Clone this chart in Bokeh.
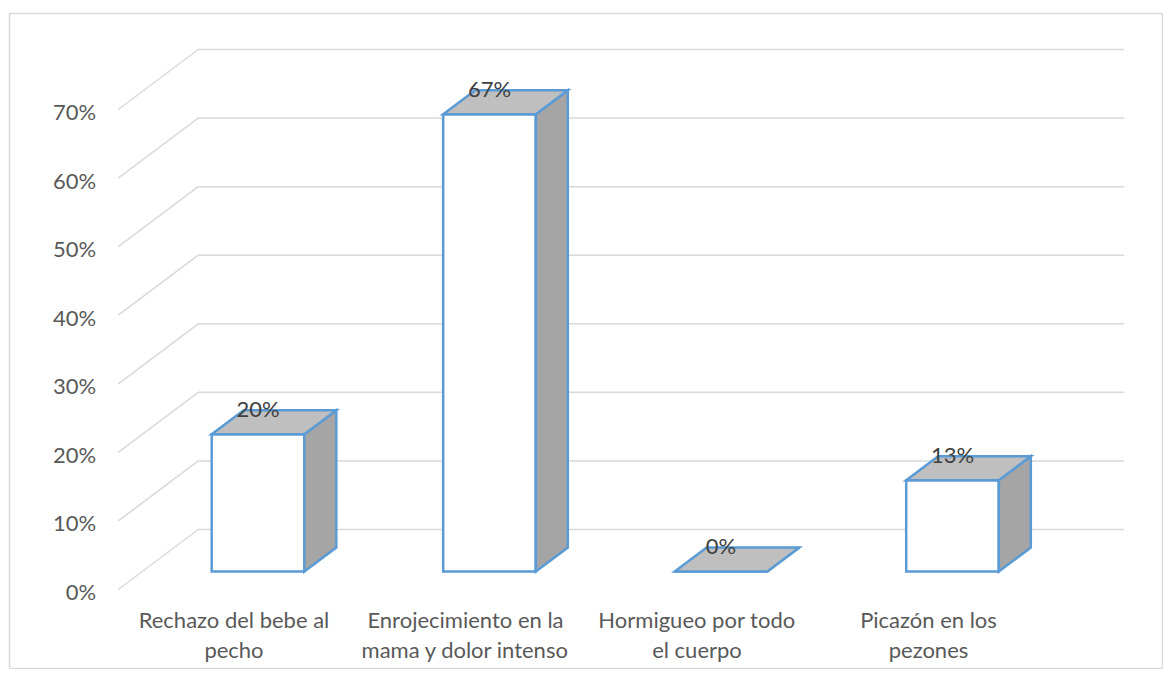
from bokeh.plotting import figure
from bokeh.models import Range1d, ColumnDataSource
from bokeh.core.properties import value
from bokeh.embed import file_html
from bokeh.resources import INLINE

# ---------------- data ----------------
categories = ["Rechazo del bebe al\npecho",
              "Enrojecimiento en la\nmama y dolor intenso",
              "Hormigueo por todo\nel cuerpo",
              "Picazón en los\npezones"]
percentages = [20.0, 66.7, 0.0, 13.3]
value_labels = ["20%", "67%", "0%", "13%"]
y_ticks = [0, 10, 20, 30, 40, 50, 60, 70]
y_tick_labels = ["0%", "10%", "20%", "30%", "40%", "50%", "60%", "70%"]

# ---------------- 3-D projection (style) ----------------
PX_PER_CAT = 231.5
PX_PER_PCT = 480.0 / 70.0
DX = 80.0 / PX_PER_CAT        # full depth shift in category units
DY = 60.0 / PX_PER_PCT        # full depth shift in percent units
HALF = 0.2                    # half bar width (gap width 150%)
D1, D2 = 0.3, 0.7             # bar depth span
X_MIN, X_MAX = -0.5, len(categories) - 0.5


def proj(x, y, d):
    return x + d * DX, y + d * DY


FONT = value("Lato")
FS = "22px"
AXIS_COLOR = "#595959"
LABEL_COLOR = "#404040"
GRID_COLOR = "#d9d9d9"
EDGE = "#5b9bd5"

W, H = 1163, 669
ML, MT = 9, 13
frame_w, frame_h = W - ML, H - MT
x0 = (ML - 233.5) / PX_PER_CAT
y0 = (589 - H) / PX_PER_PCT

p = figure(width=W, height=H,
           x_range=Range1d(x0, x0 + frame_w / PX_PER_CAT),
           y_range=Range1d(y0, y0 + frame_h / PX_PER_PCT),
           x_axis_type=None, y_axis_type=None,
           toolbar_location=None, output_backend="svg",
           min_border_left=ML, min_border_top=MT,
           min_border_right=0, min_border_bottom=0)
p.outline_line_color = GRID_COLOR
p.outline_line_width = 1.5
p.background_fill_color = "white"
p.border_fill_color = "white"

# gridlines: side wall + back wall
gx, gy = [], []
for t in y_ticks:
    a = proj(X_MIN, t, 0)
    b = proj(X_MIN, t, 1)
    c = proj(X_MAX, t, 1)
    gx.append([a[0], b[0], c[0]])
    gy.append([a[1], b[1], c[1]])
p.multi_line(gx, gy, line_color=GRID_COLOR, line_width=1.5)

# y tick labels (front plane)
p.text(x=[X_MIN] * len(y_ticks), y=y_ticks, text=y_tick_labels,
       x_offset=-22, y_offset=2, text_align="right", text_baseline="middle",
       text_font=FONT, text_font_size=FS, text_color=AXIS_COLOR)

# bars
xs, ys, fills = [], [], []
for i, v in enumerate(percentages):
    faces = [
        ([(i - HALF, 0, D1), (i + HALF, 0, D1), (i + HALF, v, D1), (i - HALF, v, D1)], "#ffffff"),
        ([(i + HALF, 0, D1), (i + HALF, 0, D2), (i + HALF, v, D2), (i + HALF, v, D1)], "#a5a5a5"),
        ([(i - HALF, v, D1), (i + HALF, v, D1), (i + HALF, v, D2), (i - HALF, v, D2)], "#bfbfbf"),
    ]
    for pts, col in faces:
        pp = [proj(*q) for q in pts]
        xs.append([q[0] for q in pp])
        ys.append([q[1] for q in pp])
        fills.append(col)
src = ColumnDataSource(dict(xs=xs, ys=ys, fill=fills))
p.patches("xs", "ys", source=src, fill_color="fill", line_color=EDGE,
          line_width=2.5, line_join="miter")

# value labels
lx = [i + D1 * DX for i in range(len(percentages))]
ly = [v + D2 * DY for v in percentages]
p.text(x=lx, y=ly, text=value_labels, y_offset=-2,
       text_align="center", text_baseline="middle",
       text_font=FONT, text_font_size=FS, text_color=LABEL_COLOR)

# category labels
p.text(x=list(range(len(categories))), y=[0] * len(categories), text=categories,
       y_offset=45, text_align="center", text_baseline="middle",
       text_line_height=1.107,
       text_font=FONT, text_font_size=FS, text_color=AXIS_COLOR)

open("out.html", "w").write(file_html(p, INLINE))
